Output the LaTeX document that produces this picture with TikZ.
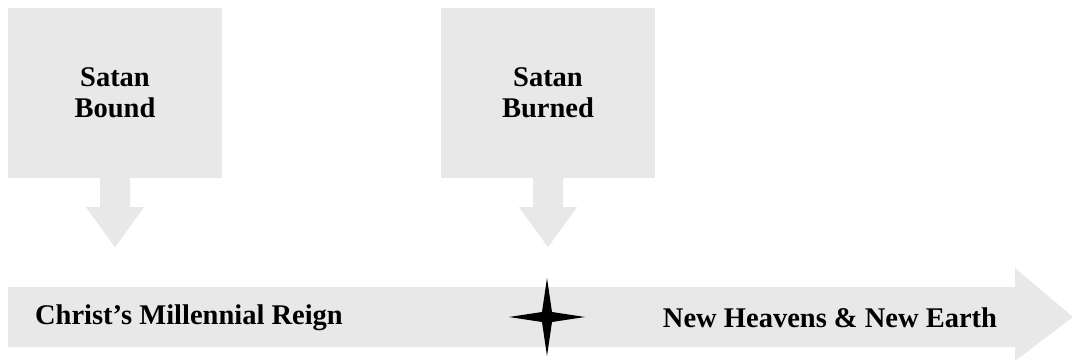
\documentclass[tikz,border=0pt]{standalone}
\usepackage{fontspec}
\setmainfont{Liberation Serif}
\definecolor{boxgray}{HTML}{E8E8E8}
\begin{document}
\begin{tikzpicture}[x=1pt,y=-1pt,
  callout/.style={fill=boxgray,draw=none,minimum width=214pt,minimum height=170pt,inner sep=0pt,
    align=center,font=\fontsize{28.5}{31}\selectfont\bfseries},
  label/.style={font=\fontsize{28.5}{31}\selectfont\bfseries,inner sep=0pt},
  blockfill/.style={fill=boxgray,draw=none}]
\useasboundingbox (0,0) rectangle (1073,361);
% timeline arrow
\fill[boxgray] (8,287) -- (1015,287) -- (1015,268) -- (1073,317) -- (1015,361) -- (1015,347) -- (8,347) -- cycle;
% callout boxes
\node[callout] (b1) at (115,93) {Satan\\Bound};
\node[callout] (b2) at (548,93) {Satan\\Burned};
% down block arrows
\foreach \b in {b1,b2}{
  \fill[boxgray] ([xshift=-15pt]\b.south) -- ++(0,29) -- ++(-14,0) -- ([yshift=-69pt]\b.south) -- ([xshift=29pt,yshift=-29pt]\b.south) -- ++(-14,0) -- ([xshift=15pt]\b.south) -- cycle;
}
% labels
\node[label] (t1) at (189,318) {Christ’s Millennial Reign};
\node[label] (t2) at (830,318) {New Heavens \& New Earth};
% star
\coordinate (star) at (547,317);
\fill[black,shift={(star)}] (-38,0) -- (-5,-5) -- (0,-39) -- (5,-5) -- (38,0) -- (5,5) -- (0,39) -- (-5,5) -- cycle;
\end{tikzpicture}
\end{document}
